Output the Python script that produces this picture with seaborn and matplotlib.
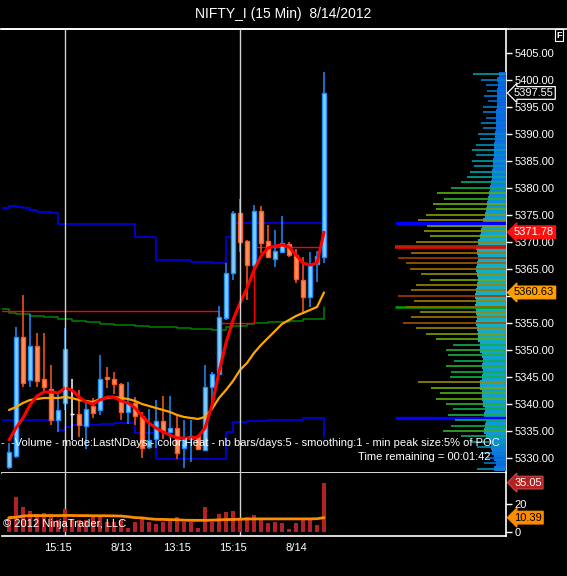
import numpy as np
import matplotlib
matplotlib.use("Agg")
import matplotlib.pyplot as plt
import matplotlib.transforms as mtransforms
from matplotlib.colors import LinearSegmentedColormap
from matplotlib.lines import Line2D
import seaborn as sns

# ==========================================
# Data (15 min bars, index 0 = first bar shown)

bar_open = [5328.28, 5330.28, 5352.40, 5344.34, 5350.73, 5344.56, 5342.71, 5337.03, 5340.12, 5338.14,
            5338.09, 5335.98, 5339.62, 5338.97, 5344.93, 5344.56, 5343.64, 5338.46, 5340.12, 5337.77,
            5332.09, 5333.46, 5336.75, 5334.87, 5335.50, 5331.80, 5333.46, 5333.94, 5331.48, 5343.08,
            5345.49, 5355.96, 5364.18, 5375.28, 5370.03, 5365.71, 5375.58, 5370.03, 5366.77, 5368.18,
            5369.60, 5367.56, 5362.94, 5359.74, 5365.90, 5367.14]
bar_high = [5332.80, 5354.30, 5360.16, 5356.65, 5353.08, 5353.08, 5347.21, 5341.97, 5354.09, 5344.56,
            5342.58, 5340.23, 5341.05, 5349.06, 5346.78, 5345.82, 5343.80, 5344.12, 5341.23, 5338.57,
            5339.07, 5340.73, 5341.47, 5341.47, 5337.96, 5337.03, 5337.03, 5334.20, 5347.21, 5345.97,
            5358.13, 5366.03, 5375.76, 5377.87, 5370.30, 5376.82, 5376.63, 5373.12, 5372.19, 5374.78,
            5369.90, 5368.62, 5367.25, 5368.18, 5368.36, 5401.48]
bar_low = [5328.00, 5330.00, 5343.05, 5343.05, 5343.10, 5341.97, 5336.02, 5334.81, 5338.90, 5333.33,
           5333.94, 5331.61, 5337.40, 5337.96, 5342.95, 5341.75, 5337.09, 5336.29, 5336.10, 5329.94,
           5331.67, 5331.80, 5333.51, 5333.65, 5329.76, 5328.10, 5329.32, 5331.40, 5331.20, 5338.88,
           5345.30, 5355.54, 5362.94, 5368.18, 5359.24, 5364.18, 5367.88, 5366.95, 5365.40, 5368.00,
           5367.20, 5362.33, 5356.78, 5358.00, 5362.62, 5366.14]
bar_close = [5331.05, 5352.39, 5343.93, 5350.73, 5344.30, 5343.05, 5337.03, 5338.79, 5350.11, 5338.14,
             5336.05, 5339.01, 5338.27, 5344.56, 5344.56, 5343.64, 5338.46, 5340.18, 5337.68, 5331.76,
             5333.20, 5336.72, 5335.00, 5335.50, 5330.98, 5333.46, 5333.94, 5331.61, 5343.08, 5345.54,
             5356.04, 5364.18, 5375.28, 5370.03, 5365.71, 5375.58, 5369.84, 5367.14, 5368.18, 5369.73,
             5367.56, 5363.07, 5359.85, 5365.90, 5367.38, 5397.55]

volume = [10.9, 24.9, 18.0, 14.7, 12.9, 13.5, 12.7, 8.9, 16.5, 8.9,
          8.9, 8.9, 10.5, 11.2, 7.1, 7.1, 8.4, 3.3, 7.1, 9.7,
          7.1, 5.8, 7.6, 8.4, 11.0, 7.1, 7.1, 3.3, 17.9, 7.1,
          13.0, 14.0, 14.8, 9.7, 11.0, 12.2, 8.4, 6.4, 7.1, 6.4,
          2.6, 6.4, 9.7, 9.7, 5.4, 35.05]
volume_avg = [10.4, 10.6, 11.5, 11.8, 11.8, 11.8, 11.8, 11.8, 11.9, 11.9,
              11.8, 11.8, 11.7, 11.7, 11.7, 11.6, 11.5, 11.0, 10.4, 10.2,
              9.6, 9.2, 9.1, 9.0, 8.9, 8.6, 8.5, 8.5, 8.5, 8.6,
              8.8, 9.0, 9.1, 9.3, 9.4, 9.5, 9.5, 9.5, 9.5, 9.5,
              9.5, 9.5, 9.5, 9.5, 9.6, 10.39]

ema_fast = [5333.33, 5335.55, 5337.40, 5339.81, 5341.47, 5342.21, 5342.21, 5342.03, 5342.95, 5342.58,
            5341.29, 5340.36, 5339.99, 5340.73, 5341.29, 5341.29, 5340.55, 5340.18, 5339.25, 5337.77,
            5336.48, 5335.55, 5334.81, 5334.26, 5333.70, 5333.70, 5333.70, 5333.89, 5335.55, 5339.81,
            5345.91, 5351.28, 5355.54, 5358.68, 5361.46, 5364.79, 5367.38, 5368.86, 5369.23, 5369.42,
            5369.05, 5367.56, 5366.08, 5365.71, 5366.08, 5371.78]
ema_slow = [5338.88, 5339.44, 5340.18, 5340.73, 5340.92, 5341.10, 5341.10, 5341.10, 5341.29, 5341.10,
            5340.73, 5340.55, 5340.36, 5340.92, 5341.10, 5341.29, 5341.10, 5340.92, 5340.55, 5339.99,
            5339.62, 5339.25, 5338.88, 5338.51, 5337.96, 5337.59, 5337.40, 5337.22, 5337.59, 5339.07,
            5341.10, 5342.58, 5344.25, 5346.28, 5347.58, 5349.43, 5350.91, 5352.21, 5353.50, 5354.80,
            5355.54, 5356.28, 5356.83, 5357.39, 5357.94, 5360.63]

# step levels, first value is the one left of bar 0
value_high = [5376.21, 5376.69, 5376.50, 5376.21, 5375.89, 5375.58, 5375.58, 5375.28,
              5373.25, 5373.25, 5373.25, 5373.25, 5373.25, 5373.25, 5373.25, 5373.25, 5373.25, 5373.25, 5373.25,
              5370.84, 5370.84, 5370.84, 5366.58, 5366.58, 5366.58, 5366.58, 5366.58,
              5366.36, 5366.36, 5366.36, 5366.08, 5366.08, 5370.90,
              5373.43, 5373.43, 5373.43, 5373.43, 5373.43, 5373.43, 5373.43, 5373.43, 5373.43, 5373.43,
              5373.43, 5373.43, 5373.43, 5373.43]
value_low = [5337.03, 5337.03, 5337.03, 5337.03, 5337.03, 5337.03, 5337.03, 5337.03,
             5335.18, 5335.68, 5336.11, 5336.11, 5336.11, 5336.11, 5336.29, 5336.29,
             5336.42, 5336.42, 5336.42, 5334.63, 5334.63, 5334.63,
             5329.81, 5329.81, 5329.81, 5329.81, 5329.81, 5329.81, 5329.81, 5329.81, 5329.81, 5329.81,
             5334.81, 5336.57, 5336.57, 5336.85, 5336.85, 5336.85,
             5337.03, 5337.03, 5337.03, 5337.03, 5337.03, 5337.31, 5337.49, 5337.49, 5333.89]
green_level = [5357.57, 5356.89, 5356.65, 5356.65, 5356.33, 5356.33, 5356.04, 5356.04, 5355.78, 5355.78,
               5355.41, 5355.41, 5355.11, 5355.11, 5354.80, 5354.80, 5354.61, 5354.61, 5354.61, 5354.48,
               5354.48, 5354.30, 5354.30, 5354.30, 5354.24, 5354.00, 5354.00, 5353.82, 5353.82, 5353.82,
               5353.69, 5353.69, 5354.15, 5354.48, 5354.48, 5354.80, 5355.04, 5355.04, 5355.22, 5355.22,
               5355.22, 5355.41, 5355.41, 5355.67, 5355.67, 5355.67, 5358.00]
prior_poc = [5357.20] * 31 + [5355.07] * 5 + [5369.10] * 11

# volume profile on the right (price level -> line length)
profile_price = list(range(5328, 5402))
profile_long = [29, 22, 19, 25, 29, 35, 45, 63, 55, 51,
                58, 53, 60, 70, 66, 75, 88, 56, 55, 60,
                52, 58, 60, 53, 70, 80, 90, 103, 95, 86,
                100, 92, 108, 95, 90, 76, 85, 96, 100, 108,
                95, 111, 90, 76, 82, 79, 88, 80, 70, 73,
                62, 69, 55, 45, 39, 36, 32, 34, 30, 34,
                30, 26, 28, 23, 25, 20, 23, 23, 18, 22,
                19, 20, 25, 33]
profile_core = [12, 10, 12, 14, 15, 17, 20, 22, 21, 20,
                22, 21, 23, 24, 24, 26, 26, 24, 23, 24,
                23, 24, 26, 26, 28, 28, 29, 30, 29, 30,
                31, 30, 31, 30, 29, 28, 29, 30, 29, 28,
                29, 30, 28, 26, 25, 24, 23, 21, 20, 19,
                18, 17, 16, 15, 14, 14, 13, 13, 12, 12,
                12, 11, 11, 10, 10, 10, 10, 9, 9, 9,
                9, 8, 9, 7]

tick_pos = [7, 16, 24, 32, 41]
tick_labels = ["15:15", "8/13", "13:15", "15:15", "8/14"]
session_breaks = [8, 33]

# ==========================================
# Style

sns.set_style("dark", {"axes.facecolor": "black", "figure.facecolor": "black"})
plt.rcParams["font.family"] = ["Liberation Sans", "DejaVu Sans"]

W, H = 567, 576
fig = plt.figure(figsize=(W / 100, H / 100), dpi=100)
fig.patch.set_facecolor("black")

ax = fig.add_axes([2 / W, 1 - 473 / H, 504 / W, 444 / H])
ax_v = fig.add_axes([2 / W, 1 - 536 / H, 504 / W, 63 / H])
for a in (ax, ax_v):
    a.set_facecolor("black")
    a.grid(False)

idx = np.arange(len(bar_open))
step_idx = np.arange(-1, len(bar_open))

# ==========================================
# Price panel

up_fill, up_edge = "#87cefa", "#1e90ff"
dn_fill, dn_edge = "#ff9060", "#ff5a1e"
o = np.array(bar_open)
c = np.array(bar_close)
edge = [up_edge if cc > oo else (dn_edge if cc < oo else "white") for oo, cc in zip(o, c)]
fill = [up_fill if cc > oo else (dn_fill if cc < oo else "white") for oo, cc in zip(o, c)]

# level lines
sns.lineplot(x=step_idx, y=value_high, ax=ax, color="#0000ff", lw=1.1,
             drawstyle="steps-post", estimator=None, sort=False, zorder=2)
sns.lineplot(x=step_idx, y=value_low, ax=ax, color="#0000ff", lw=1.1,
             drawstyle="steps-post", estimator=None, sort=False, zorder=2)
sns.lineplot(x=step_idx, y=green_level, ax=ax, color="#008000", lw=1.1,
             drawstyle="steps-post", estimator=None, sort=False, zorder=2)
sns.lineplot(x=step_idx, y=prior_poc, ax=ax, color="#ff0000", lw=1.0,
             drawstyle="steps-post", estimator=None, sort=False, zorder=2)

# candles
ax.vlines(idx, bar_low, bar_high, colors=edge, lw=1.1, zorder=3)
ax.bar(idx, np.abs(c - o) + 0.05, bottom=np.minimum(o, c), width=0.7,
       color=fill, edgecolor=edge, linewidth=1.0, zorder=4)

# moving averages
sns.lineplot(x=idx, y=ema_slow, ax=ax, color="#ffa500", lw=1.6, estimator=None, zorder=5)
sns.lineplot(x=idx, y=ema_fast, ax=ax, color="#ff0000", lw=2.2, estimator=None, zorder=6)

for s in session_breaks:
    ax.axvline(s, color="#d0d0d0", lw=1, zorder=7)
    ax_v.axvline(s, color="#d0d0d0", lw=1, zorder=1)

ax.set_xlim(-1.0, 71.0)
ax.set_ylim(5327.22, 5409.39)
ax.set_xticks([])
ax.set_xlabel("")
ax.set_ylabel("")
ax.yaxis.tick_right()
yt = np.arange(5330, 5406, 5)
ax.set_yticks(yt)
# the 5360 label sits under the orange marker
ax.set_yticklabels(["" if v == 5360 else "%.2f" % v for v in yt])
ax.tick_params(axis="y", colors="white", length=4, width=1, pad=2, labelsize=8)
for side in ["top", "right", "bottom"]:
    ax.spines[side].set_visible(True)
    ax.spines[side].set_color("white")
    ax.spines[side].set_linewidth(1.2)
ax.spines["left"].set_visible(False)

# volume profile drawn from the right edge
ax_p = ax.twiny()
ax_p.set_xlim(504, 0)
heat = LinearSegmentedColormap.from_list(
    "heat", ["#0030c0", "#0070d0", "#00a8a0", "#10b040", "#70b000", "#a08000", "#a03000"])
core_map = LinearSegmentedColormap.from_list(
    "core", ["#0038e8", "#1068e8", "#1098d8", "#18b0c0"])
pl = np.array(profile_long, dtype=float)
pc = np.array(profile_core, dtype=float)
ax_p.barh(profile_price, pc, height=1.0, left=0, color=core_map(pc / pc.max()),
          linewidth=0, zorder=1)
ax_p.hlines([value_high[-2], value_low[-2]], 0, pl.max(), colors="#0000ff", lw=2.4, zorder=2)
ax_p.hlines(prior_poc[-1], 0, pl.max(), colors="#ff0000", lw=2.6, zorder=2)
ax_p.hlines(green_level[-1], 0, pl.max(), colors="#00a000", lw=1.8, zorder=2)
ax_p.hlines(profile_price, 0, pl, colors=heat(pl / pl.max()), lw=1.2, zorder=3)
ax_p.set_xticks([])
for sp in ax_p.spines.values():
    sp.set_visible(False)
ax_p.grid(False)

# price markers on the axis
trans = mtransforms.blended_transform_factory(ax.transAxes, ax.transData)
ax.text(1.016, bar_close[-1], "%.2f" % bar_close[-1], transform=trans, ha="left", va="center",
        color="white", fontsize=8, zorder=10,
        bbox=dict(boxstyle="larrow,pad=0.12", fc="black", ec="white", lw=0.9))
ax.text(1.016, ema_fast[-1], "%.2f" % ema_fast[-1], transform=trans, ha="left", va="center",
        color="white", fontsize=8, zorder=10,
        bbox=dict(boxstyle="larrow,pad=0.12", fc="#ff1010", ec="#ff1010", lw=0.9))
ax.text(1.016, ema_slow[-1], "%.2f" % ema_slow[-1], transform=trans, ha="left", va="center",
        color="black", fontsize=8, zorder=10,
        bbox=dict(boxstyle="larrow,pad=0.12", fc="#ffa000", ec="#ffa000", lw=0.9))

# ==========================================
# Volume panel

ax_v.bar(idx, volume, width=0.45, color="#b22222", edgecolor="none", linewidth=0, zorder=2)
sns.lineplot(x=idx, y=volume_avg, ax=ax_v, color="#ff8c00", lw=2.0, estimator=None, zorder=3)
ax_v.set_xlim(-1.0, 71.0)
ax_v.set_ylim(-2.55, 41.8)
ax_v.set_xlabel("")
ax_v.set_ylabel("")
ax_v.yaxis.tick_right()
ax_v.set_yticks([0, 20])
ax_v.set_yticklabels(["0", "20"])
ax_v.tick_params(axis="y", colors="white", length=4, width=1, pad=2, labelsize=8)
ax_v.set_xticks(tick_pos)
ax_v.set_xticklabels(tick_labels)
ax_v.tick_params(axis="x", colors="white", length=3, width=1, pad=2, labelsize=8)
for side in ["right", "bottom"]:
    ax_v.spines[side].set_visible(True)
    ax_v.spines[side].set_color("white")
    ax_v.spines[side].set_linewidth(1.2)
ax_v.spines["top"].set_visible(False)
ax_v.spines["left"].set_visible(False)

trans_v = mtransforms.blended_transform_factory(ax_v.transAxes, ax_v.transData)
ax_v.text(1.016, volume[-1], "%.2f" % volume[-1], transform=trans_v, ha="left", va="center",
          color="white", fontsize=8, zorder=10,
          bbox=dict(boxstyle="larrow,pad=0.12", fc="#b22222", ec="#d04040", lw=0.9))
ax_v.text(1.016, volume_avg[-1], "%.2f" % volume_avg[-1], transform=trans_v, ha="left", va="center",
          color="black", fontsize=8, zorder=10,
          bbox=dict(boxstyle="larrow,pad=0.12", fc="#ff8c00", ec="#ff8c00", lw=0.9))

# ==========================================
# Titles and overlay texts

fig.add_artist(Line2D([0, 1], [1 - 29 / H, 1 - 29 / H], color="white", lw=1.2,
                      transform=fig.transFigure))
fig.text(0.5, 1 - 14 / H, "NIFTY_I (15 Min)  8/14/2012", ha="center", va="center",
         color="white", fontsize=10)
fig.text(559 / W, 1 - 35 / H, "F", ha="center", va="center", color="white", fontsize=6.5,
         fontweight="bold",
         bbox=dict(boxstyle="square,pad=0.15", fc="black", ec="white", lw=0.8))
fig.text(500 / W, 1 - 443 / H,
         "-  -Volume - mode:LastNDays - color:Heat - nb bars/days:5 - smoothing:1 - min peak size:5% of POC",
         ha="right", va="center", color="white", fontsize=8)
fig.text(490 / W, 1 - 457 / H, "Time remaining = 00:01:42", ha="right", va="center",
         color="white", fontsize=8)
fig.text(3 / W, 1 - 524 / H, "\u00a9 2012 NinjaTrader, LLC", ha="left", va="center",
         color="white", fontsize=8)

plt.savefig("out.png", dpi=100, facecolor="black")
